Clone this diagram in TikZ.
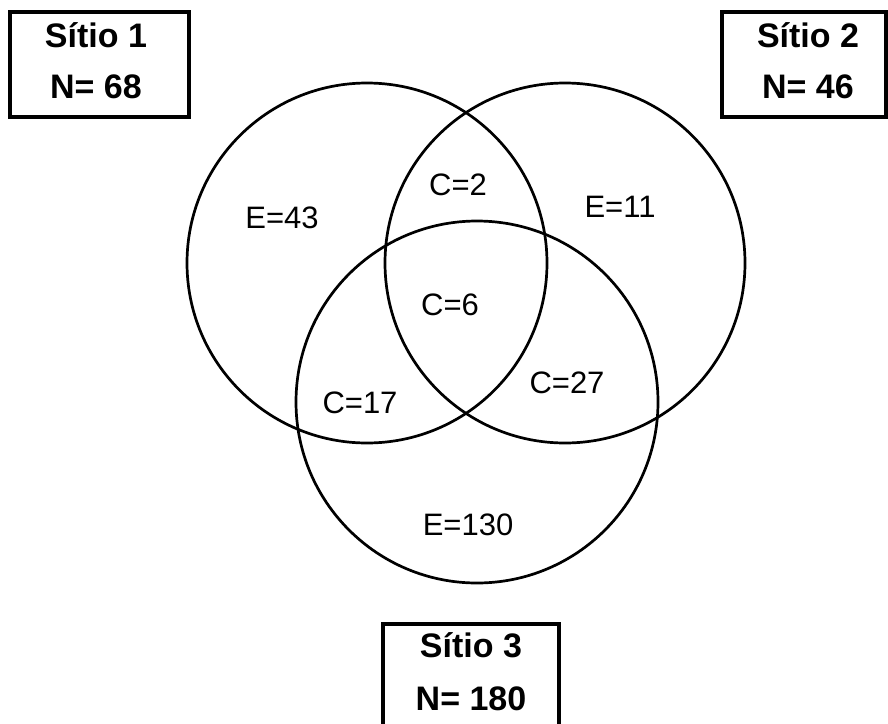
\documentclass[tikz,border=0pt]{standalone}
\usepackage{fontspec}
\setmainfont{Liberation Sans}
\begin{document}
\begin{tikzpicture}[x=1pt,y=-1pt,
  setcircle/.style={draw, line width=2.7pt, circle, minimum size=360pt, inner sep=0pt},
  sitebox/.style={draw, line width=3.6pt, rectangle, inner sep=0pt},
  boxtext/.style={anchor=base, inner sep=0pt, font=\fontsize{34}{40}\selectfont\bfseries},
  lbl/.style={anchor=base, inner sep=0pt, font=\fontsize{31}{37}\selectfont}]
\useasboundingbox[fill=white] (0,0) rectangle (888,723);
% circles
\node[setcircle] (c1) at (367,263) {};
\node[setcircle] (c2) at (565,263) {};
\node[setcircle, minimum size=362pt] (c3) at (477,402) {};
% region labels
\node[lbl] (e43) at (282,228) {E=43};
\node[lbl] (c2l) at (458,195) {C=2};
\node[lbl] (e11) at (620,217) {E=11};
\node[lbl] (c6) at (450,315) {C=6};
\node[lbl] (c17) at (360,413) {C=17};
\node[lbl] (c27) at (567,393) {C=27};
\node[lbl] (e130) at (468,535) {E=130};
% site boxes
\node[sitebox, minimum width=179pt, minimum height=105pt] (b1) at (99.5,64.5) {};
\node[boxtext] (b1a) at (96,47) {Sítio 1};
\node[boxtext] (b1b) at (96,98) {N= 68};
\node[sitebox, minimum width=164pt, minimum height=105pt] (b2) at (804,64.5) {};
\node[boxtext] (b2a) at (808,47) {Sítio 2};
\node[boxtext] (b2b) at (808,98) {N= 46};
\node[sitebox, minimum width=176pt, minimum height=120pt] (b3) at (471,684) {};
\node[boxtext] (b3a) at (471,657) {Sítio 3};
\node[boxtext] (b3b) at (471,710) {N= 180};
\end{tikzpicture}
\end{document}
